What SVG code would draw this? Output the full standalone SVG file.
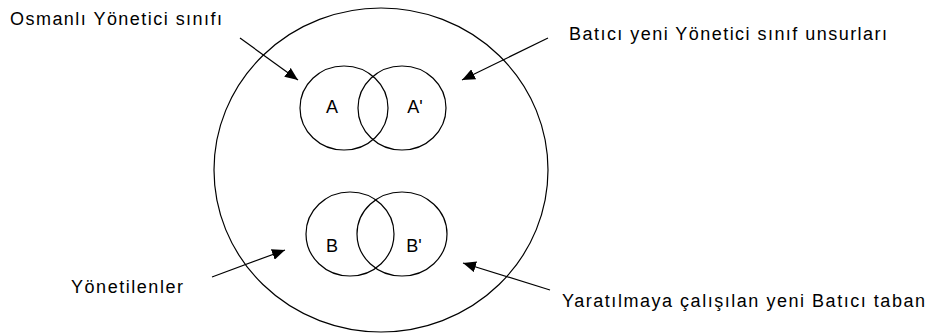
<svg xmlns="http://www.w3.org/2000/svg" width="930" height="333" viewBox="0 0 930 333">
<style>
.c{fill:none;stroke:#000;stroke-width:1.2}
.l{fill:none;stroke:#000;stroke-width:1.2}
.t{font-family:"Liberation Sans",Arial,sans-serif;font-size:18px;fill:#000}
.s{font-family:"Liberation Sans",Arial,sans-serif;font-size:18px;fill:#000;text-anchor:middle}
</style>
<defs>
<marker id="ah" viewBox="0 0 13 11" refX="13" refY="5.5" markerWidth="13" markerHeight="11" markerUnits="userSpaceOnUse" orient="auto">
<path d="M0,0 L13,5.5 L0,11 Z" fill="#000"/>
</marker>
</defs>
<rect width="930" height="333" fill="#fff"/>
<g id="outer"><ellipse class="c" cx="381" cy="170" rx="167" ry="162"/></g>
<g id="A"><ellipse class="c" cx="344" cy="108" rx="44" ry="42"/><text class="s" x="332" y="113">A</text></g>
<g id="A2"><ellipse class="c" cx="402" cy="108" rx="44" ry="42"/><text class="s" x="415" y="113">A'</text></g>
<g id="B"><ellipse class="c" cx="350" cy="234" rx="44" ry="42"/><text class="s" x="332" y="252">B</text></g>
<g id="B2"><ellipse class="c" cx="402" cy="234" rx="45" ry="42"/><text class="s" x="414" y="252">B'</text></g>
<g id="labels">
<text class="t" x="10" y="25" textLength="212" lengthAdjust="spacing">Osmanlı Yönetici sınıfı</text>
<text class="t" x="569" y="40" textLength="318" lengthAdjust="spacing">Batıcı yeni Yönetici sınıf unsurları</text>
<text class="t" x="71" y="293" textLength="112" lengthAdjust="spacing">Yönetilenler</text>
<text class="t" x="562" y="307" textLength="363" lengthAdjust="spacing">Yaratılmaya çalışılan yeni Batıcı taban</text>
</g>
<g id="connectors">
<line class="l" x1="240" y1="38" x2="298" y2="80" marker-end="url(#ah)"/>
<line class="l" x1="548" y1="38" x2="462" y2="80" marker-end="url(#ah)"/>
<line class="l" x1="212" y1="277" x2="285" y2="250" marker-end="url(#ah)"/>
<line class="l" x1="550" y1="290" x2="463" y2="263" marker-end="url(#ah)"/>
</g>
</svg>
